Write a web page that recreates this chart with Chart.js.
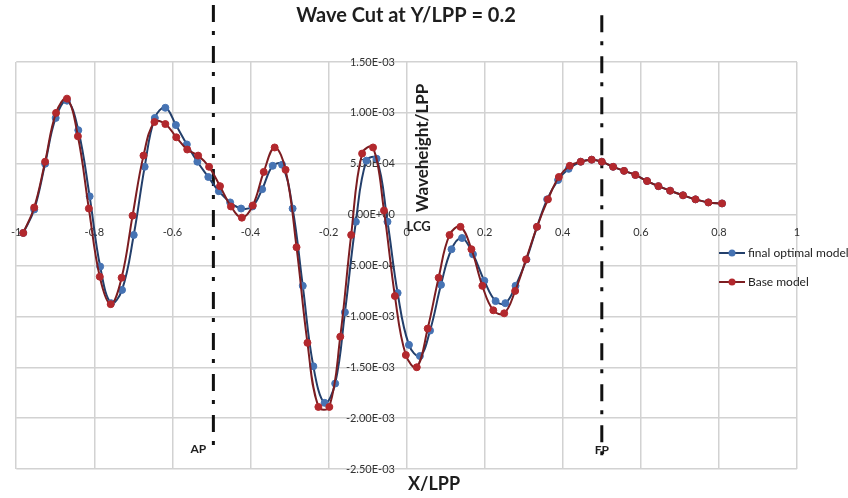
<!DOCTYPE html>
<html>
<head>
<meta charset="utf-8">
<script src="https://cdn.jsdelivr.net/npm/chart.js@4.4.1/dist/chart.umd.min.js"></script>
<style>
  html, body { margin: 0; background: #fff; }
</style>
</head>
<body>
<canvas id="wave" width="848" height="498"></canvas>
<script>
// values (x = X/LPP, y = Waveheight/LPP)
const baseX = [-0.982, -0.954, -0.926, -0.898, -0.870, -0.842, -0.814, -0.786, -0.758, -0.730,
  -0.702, -0.674, -0.646, -0.618, -0.590, -0.562, -0.534, -0.506, -0.478, -0.450,
  -0.422, -0.394, -0.366, -0.338, -0.310, -0.282, -0.254, -0.226, -0.198, -0.170,
  -0.142, -0.114, -0.086, -0.058, -0.030, -0.002, 0.026, 0.054, 0.082, 0.110,
  0.138, 0.166, 0.194, 0.222, 0.250, 0.278, 0.306, 0.334, 0.362, 0.390,
  0.418, 0.446, 0.474, 0.500, 0.529, 0.557, 0.586, 0.616, 0.645, 0.675,
  0.708, 0.740, 0.773, 0.808];
const baseY = [-0.18e-3, 0.07e-3, 0.52e-3, 1.00e-3, 1.14e-3, 0.77e-3, 0.06e-3, -0.61e-3, -0.88e-3, -0.62e-3,
  -0.01e-3, 0.58e-3, 0.91e-3, 0.89e-3, 0.76e-3, 0.64e-3, 0.58e-3, 0.47e-3, 0.28e-3, 0.08e-3,
  -0.03e-3, 0.09e-3, 0.42e-3, 0.66e-3, 0.44e-3, -0.32e-3, -1.26e-3, -1.89e-3, -1.89e-3, -1.20e-3,
  -0.20e-3, 0.60e-3, 0.66e-3, 0.04e-3, -0.80e-3, -1.38e-3, -1.50e-3, -1.12e-3, -0.62e-3, -0.20e-3,
  -0.12e-3, -0.34e-3, -0.70e-3, -0.94e-3, -0.97e-3, -0.75e-3, -0.44e-3, -0.12e-3, 0.15e-3, 0.37e-3,
  0.48e-3, 0.52e-3, 0.54e-3, 0.52e-3, 0.47e-3, 0.43e-3, 0.39e-3, 0.33e-3, 0.28e-3, 0.235e-3,
  0.19e-3, 0.15e-3, 0.12e-3, 0.11e-3];

const optX = [-0.982, -0.954, -0.926, -0.899, -0.870, -0.841, -0.812, -0.785, -0.757, -0.729,
  -0.699, -0.671, -0.645, -0.618, -0.591, -0.563, -0.536, -0.508, -0.481, -0.452,
  -0.424, -0.395, -0.370, -0.343, -0.319, -0.292, -0.266, -0.239, -0.210, -0.183,
  -0.158, -0.130, -0.103, -0.077, -0.049, -0.023, 0.006, 0.034, 0.060, 0.088,
  0.115, 0.142, 0.170, 0.199, 0.228, 0.253, 0.279, 0.307, 0.334, 0.360,
  0.388, 0.415, 0.446, 0.474, 0.500, 0.529, 0.557, 0.586, 0.616, 0.645,
  0.675, 0.708, 0.740, 0.773, 0.808];
const optY = [-0.18e-3, 0.05e-3, 0.50e-3, 0.95e-3, 1.12e-3, 0.83e-3, 0.18e-3, -0.51e-3, -0.87e-3, -0.74e-3,
  -0.20e-3, 0.47e-3, 0.95e-3, 1.05e-3, 0.88e-3, 0.69e-3, 0.52e-3, 0.37e-3, 0.23e-3, 0.12e-3,
  0.06e-3, 0.08e-3, 0.25e-3, 0.48e-3, 0.49e-3, 0.06e-3, -0.70e-3, -1.49e-3, -1.85e-3, -1.66e-3,
  -0.96e-3, -0.07e-3, 0.53e-3, 0.55e-3, -0.07e-3, -0.77e-3, -1.28e-3, -1.39e-3, -1.14e-3, -0.69e-3,
  -0.34e-3, -0.23e-3, -0.39e-3, -0.65e-3, -0.85e-3, -0.87e-3, -0.70e-3, -0.44e-3, -0.12e-3, 0.15e-3,
  0.34e-3, 0.45e-3, 0.52e-3, 0.54e-3, 0.52e-3, 0.47e-3, 0.43e-3, 0.39e-3, 0.33e-3, 0.28e-3,
  0.235e-3, 0.19e-3, 0.15e-3, 0.12e-3, 0.11e-3];

// AP / FP marker lines
const refNames = ["AP", "FP"];
const refX = [-0.495, 0.5];
const refTop = [2.06e-3, 1.96e-3];
const refBottom = [-2.30e-3, -2.40e-3];

const BLUE = { line: "#233f6b", dot: "#4673b3" };
const RED = { line: "#7c1d21", dot: "#b2282d" };
const FONT = "Lato, 'Open Sans', sans-serif";

const pts = (xs, ys) => xs.map((x, i) => ({ x, y: ys[i] }));
const series = (label, xs, ys, c, order) => ({
  label, data: pts(xs, ys), order,
  borderColor: c.line, borderWidth: 2, tension: 0.4,
  pointRadius: 3.5, pointBackgroundColor: c.dot, pointBorderColor: c.dot, pointBorderWidth: 1,
});
const refLine = i => ({
  label: refNames[i], order: 2, clip: false,
  data: [{ x: refX[i], y: refTop[i] }, { x: refX[i], y: refBottom[i] }],
  borderColor: "#111", borderWidth: 3, borderDash: [17, 9, 4, 11], pointRadius: 0,
});

const sci = v => {
  if (Math.abs(v) < 1e-12) return "0.00E+00";
  return v.toExponential(2).toUpperCase().replace(/E([+-])(\d)$/, "E$10$2");
};

// free texts: axis titles, LCG/AP/FP labels and the legend
const annotate = {
  id: "annotate",
  afterDraw(chart) {
    const { ctx, scales: { x } } = chart;
    ctx.save();
    ctx.fillStyle = "#1e1e1e";
    ctx.textAlign = "center"; ctx.textBaseline = "middle";
    ctx.font = "bold 18px " + FONT;
    ctx.fillText("X/LPP", 434, 484);
    ctx.font = "bold 13px " + FONT;
    ctx.fillText("LCG", x.getPixelForValue(0) + 12, 227);
    ctx.font = "bold 12px " + FONT;
    ctx.fillText("AP", x.getPixelForValue(refX[0]) - 15, 449);
    ctx.fillText("FP", x.getPixelForValue(refX[1]), 450);
    ctx.save();
    ctx.translate(423, 148); ctx.rotate(-Math.PI / 2);
    ctx.font = "bold 17px " + FONT;
    ctx.fillText("Waveheight/LPP", 0, 0);
    ctx.restore();

    [[BLUE, "final optimal model", 253], [RED, "Base model", 282]].forEach(([c, txt, ly]) => {
      ctx.strokeStyle = c.line; ctx.lineWidth = 2;
      ctx.beginPath(); ctx.moveTo(719, ly); ctx.lineTo(745, ly); ctx.stroke();
      ctx.fillStyle = c.dot;
      ctx.beginPath(); ctx.arc(732, ly, 3.5, 0, Math.PI * 2); ctx.fill();
      ctx.fillStyle = "#222"; ctx.textAlign = "left";
      ctx.font = "12px " + FONT;
      ctx.fillText(txt, 748, ly);
    });
    ctx.restore();
  },
};

const grid = { color: "#d2d2d2", lineWidth: 1.5, drawTicks: false };
const tickFont = { family: FONT, size: 11 };

new Chart(document.getElementById("wave"), {
  type: "line",
  data: {
    datasets: [
      series("Base model", baseX, baseY, RED, 0),
      series("final optimal model", optX, optY, BLUE, 1),
      refLine(0), refLine(1),
    ],
  },
  options: {
    responsive: false, animation: false,
    layout: { padding: { left: 15, right: 51, top: 0, bottom: 29 } },
    plugins: {
      legend: { display: false },
      tooltip: { enabled: false },
      title: {
        display: true, text: "Wave Cut at Y/LPP = 0.2", color: "#1e1e1e",
        font: { family: FONT, size: 20, weight: "bold" }, padding: { top: 4, bottom: 34 },
      },
    },
    scales: {
      x: {
        type: "linear", min: -1, max: 1, position: { y: 0 },
        grid, border: { display: false },
        ticks: { stepSize: 0.2, autoSkip: false, maxRotation: 0, padding: 11, color: "#333", font: tickFont,
          callback: v => String(Math.round(v * 10) / 10) },
      },
      y: {
        // labels sit just left of the x = 0 line, as in the Excel original
        type: "linear", min: -2.5e-3, max: 1.5e-3, position: { x: -0.03 },
        grid, border: { display: false },
        ticks: { stepSize: 5e-4, autoSkip: false, color: "#333", font: tickFont, callback: sci },
      },
    },
  },
  plugins: [annotate],
});
</script>
</body>
</html>
